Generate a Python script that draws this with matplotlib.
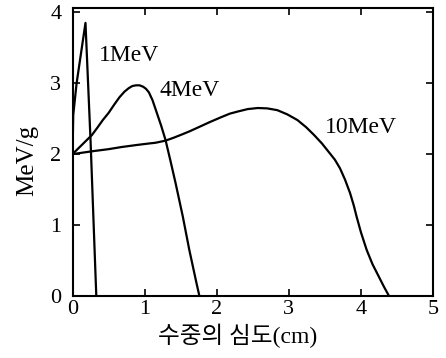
import matplotlib
matplotlib.use("Agg")
import matplotlib.pyplot as plt

# depth (cm) / dose (MeV/g)
x_1mev = [0, 0.01, 0.057, 0.18, 0.25, 0.33]
y_1mev = [2.0, 2.55, 3.0, 3.85, 2.2, 0.0]

x_4mev = [0, 0.1, 0.2, 0.27, 0.35, 0.42, 0.5, 0.58, 0.65, 0.72, 0.78, 0.83, 0.88, 0.93,
          0.98, 1.02, 1.06, 1.11, 1.17, 1.23, 1.29, 1.36, 1.43, 1.53, 1.62, 1.72, 1.76]
y_4mev = [2.0, 2.1, 2.2, 2.27, 2.38, 2.48, 2.58, 2.7, 2.8, 2.88, 2.93, 2.96, 2.97, 2.97,
          2.95, 2.92, 2.87, 2.76, 2.58, 2.4, 2.2, 1.9, 1.59, 1.12, 0.65, 0.18, 0.0]

x_10mev = [0, 0.27, 0.5, 0.68, 0.9, 1.06, 1.15, 1.29, 1.4, 1.5, 1.62, 1.75, 1.9, 2.06, 2.18,
           2.29, 2.43, 2.57, 2.7, 2.84, 2.98, 3.12, 3.24, 3.35, 3.46, 3.57, 3.64, 3.71, 3.78,
           3.85, 3.9, 3.94, 4.0, 4.08, 4.16, 4.25, 4.32, 4.39]
y_10mev = [2.0, 2.04, 2.07, 2.1, 2.13, 2.15, 2.16, 2.19, 2.23, 2.27, 2.32, 2.38, 2.45, 2.52, 2.57,
           2.6, 2.635, 2.65, 2.645, 2.62, 2.56, 2.48, 2.38, 2.27, 2.15, 2.01, 1.92, 1.8, 1.64,
           1.45, 1.28, 1.12, 0.9, 0.65, 0.45, 0.27, 0.13, 0.0]

labels = ["1MeV", "4MeV", "10MeV"]
label_pos = [(0.36, 3.39), (1.2, 2.9), (3.5, 2.38)]

xticks = [0, 1, 2, 3, 4, 5]
yticks = [0, 1, 2, 3, 4]

plt.rcParams['font.family'] = ['Liberation Serif', 'DejaVu Serif']

fig = plt.figure(figsize=(4.46, 3.58), dpi=100)
ax = fig.add_axes([72.5 / 446, 62 / 358, 360.5 / 446, 288 / 358])

for xs, ys in [(x_1mev, y_1mev), (x_4mev, y_4mev), (x_10mev, y_10mev)]:
    ax.plot(xs, ys, color='black', lw=1.6, solid_joinstyle='round')

for lab, (lx, ly) in zip(labels, label_pos):
    ax.text(lx, ly, lab, fontsize=17, ha='left', va='center')

ax.set_xlim(0, 5)
ax.set_ylim(0, 4.06)
ax.set_xticks(xticks)
ax.set_yticks(yticks)
ax.tick_params(direction='in', top=True, right=True, length=5, width=1.2, labelsize=16)
ax.tick_params(axis='x', pad=3)
ax.tick_params(axis='y', pad=8)
for s in ax.spines.values():
    s.set_linewidth(1.5)

ax.set_ylabel("MeV/g", fontsize=18)
ax.yaxis.set_label_coords(-0.096, 0.472)
ax.set_xlabel("수중의 심도(cm)", fontsize=17,
              family=['Liberation Serif', 'Noto Sans CJK KR', 'DejaVu Sans'])
ax.xaxis.set_label_coords(0.459, -0.095)

fig.savefig("out.png", dpi=100)
